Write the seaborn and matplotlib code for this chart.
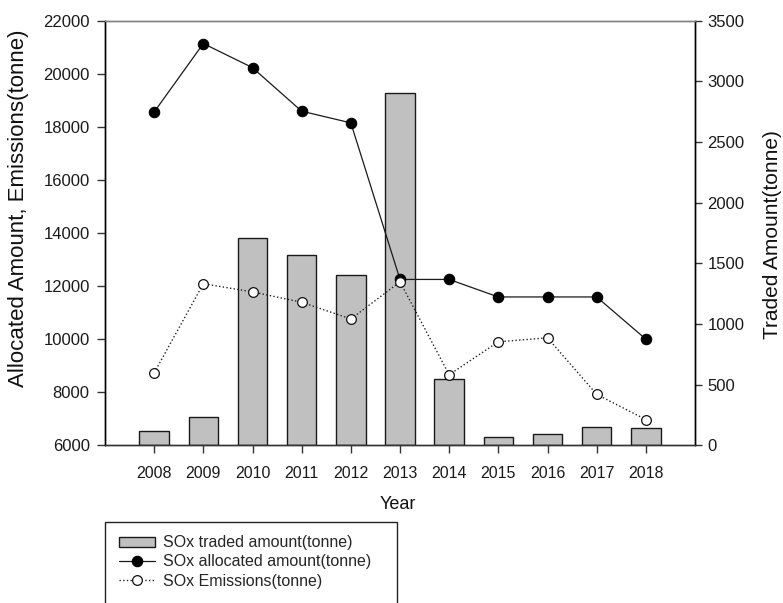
import numpy as np
import matplotlib
matplotlib.use("Agg")
import matplotlib.pyplot as plt
import seaborn as sns
from matplotlib.lines import Line2D

# SOx emission trading data, 2008-2018
years = ["2008", "2009", "2010", "2011", "2012", "2013",
         "2014", "2015", "2016", "2017", "2018"]
traded = [115, 236, 1712, 1567, 1402, 2903, 548, 68, 90, 153, 142]
allocated = [18560, 21140, 20230, 18590, 18150, 12250,
             12250, 11590, 11590, 11590, 10000]
emissions = [8730, 12090, 11780, 11390, 10760, 12160,
             8660, 9900, 10050, 7920, 6970]

left_ticks = list(range(6000, 22001, 2000))
right_ticks = list(range(0, 3501, 500))

sns.set_theme(style="white")
plt.rcParams["font.family"] = ["Liberation Sans", "DejaVu Sans"]

W, H = 783, 603
fig = plt.figure(figsize=(W / 100, H / 100), dpi=100)
ax = fig.add_axes([105 / W, 1 - 445.3 / H, 590 / W, 424.6 / H])

# traded amount bars (right-hand scale)
sns.barplot(x=years, y=traded, ax=ax, color="#c0c0c0", saturation=1,
            width=0.6, edgecolor="#1a1a1a", linewidth=1.0,
            label="SOx traded amount(tonne)")
ax.set_ylim(0, 3500)
ax.set_yticks(right_ticks)
ax.yaxis.tick_right()
ax.set_xlim(-1, 11)
ax.set_xlabel("")
ax.set_ylabel("")

# allocated amount and emissions lines (left-hand scale)
ax2 = ax.twinx()
pos = np.arange(len(years))
sns.lineplot(x=pos, y=allocated, ax=ax2, color="#1a1a1a", linewidth=0.9,
             marker="o", markersize=7.5, markerfacecolor="black",
             markeredgecolor="black", markeredgewidth=0.8,
             label="SOx allocated amount(tonne)")
sns.lineplot(x=pos, y=emissions, ax=ax2, color="#222222", linewidth=1.0,
             linestyle=":", marker="o", markersize=7, markerfacecolor="white",
             markeredgecolor="#111111", markeredgewidth=0.9,
             label="SOx Emissions(tonne)")
ax2.set_ylim(6000, 22000)
ax2.set_yticks(left_ticks)
ax2.yaxis.tick_left()
ax2.set_xlim(-1, 11)

for a in (ax, ax2):
    if a.get_legend() is not None:
        a.get_legend().remove()
    for side, col in (("left", "black"), ("right", "black"),
                      ("bottom", "#333333"), ("top", "#808080")):
        a.spines[side].set_color(col)
        a.spines[side].set_linewidth(1.0)

ax.tick_params(axis="x", bottom=True, direction="out", length=6, width=1,
               color="#333333", pad=9, labelsize=11.5, labelcolor="#1a1a1a")
ax.tick_params(axis="y", right=True, left=False, labelright=True,
               labelleft=False, direction="out", length=5, width=1,
               color="#333333", pad=4, labelsize=12, labelcolor="#1a1a1a")
ax2.tick_params(axis="y", left=True, right=False, labelleft=True,
                labelright=False, direction="out", length=6, width=1,
                color="#333333", pad=5, labelsize=12, labelcolor="#1a1a1a")

# axis titles
ax.set_xlabel("Year", fontsize=13, color="#111111")
ax.xaxis.set_label_coords(0.4966, -0.1406)
ax.xaxis.label.set_va("center")

ax2.set_ylabel("Allocated Amount, Emissions(tonne)", fontsize=16,
               color="#111111")
ax2.yaxis.set_label_position("left")
ax2.yaxis.set_label_coords(-0.1458, 0.5589)
ax2.yaxis.label.set_va("center")

ax.set_ylabel("Traded Amount(tonne)", fontsize=15, color="#111111")
ax.yaxis.set_label_position("right")
ax.yaxis.set_label_coords(1.1322, 0.4953)
ax.yaxis.label.set_va("center")

# legend below the plot, box running past the bottom edge
h1, l1 = ax.get_legend_handles_labels()
h2, l2 = ax2.get_legend_handles_labels()
blank = Line2D([], [], linestyle="none")
leg = fig.legend(h1[:1] + h2 + [blank], l1[:1] + l2 + [" "],
                 loc="upper left",
                 bbox_to_anchor=(105 / W, 0.0, 291.7 / W, 1 - 521.7 / H),
                 mode="expand", borderaxespad=0, borderpad=0.85,
                 labelspacing=0.26, handlelength=2.3, handletextpad=0.5,
                 handleheight=0.6, numpoints=1, fontsize=11.5,
                 frameon=True, fancybox=False, edgecolor="#222222",
                 framealpha=1)
leg.get_frame().set_linewidth(1.0)

fig.savefig("out.png", dpi=100)
